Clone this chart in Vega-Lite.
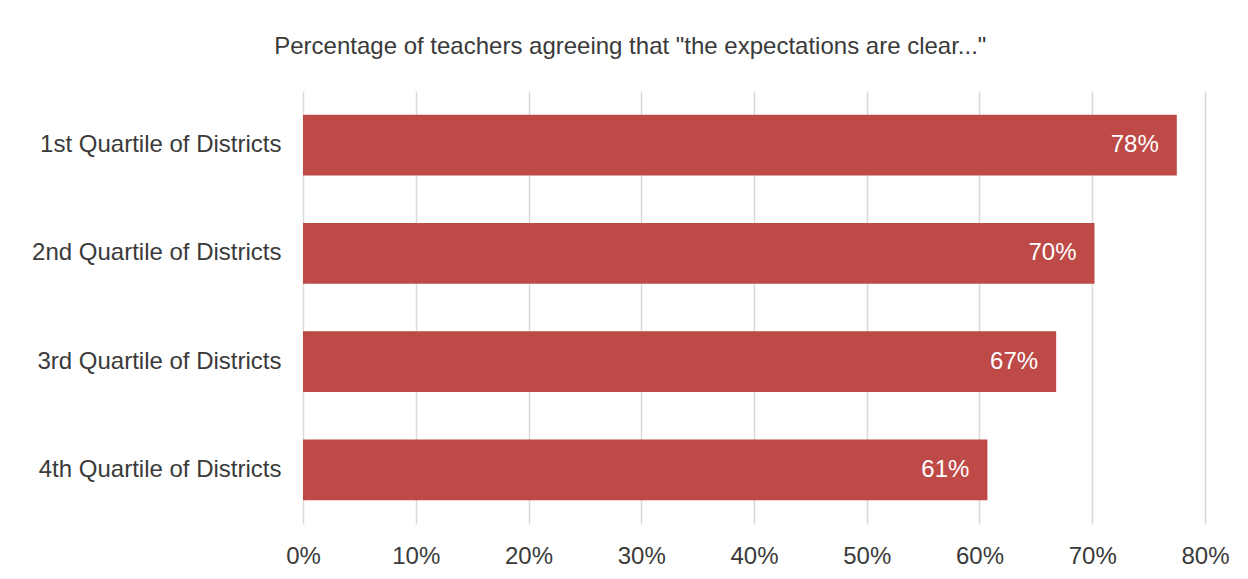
{
  "$schema": "https://vega.github.io/schema/vega-lite/v6.json",
  "width": 902,
  "height": 433,
  "autosize": {"type": "none"},
  "padding": {"left": 303, "top": 91, "right": 43, "bottom": 55},
  "background": "white",
  "title": {
    "text": "Percentage of teachers agreeing that \"the expectations are clear...\"",
    "anchor": "middle",
    "frame": "bounds",
    "fontSize": 24,
    "fontWeight": "normal",
    "font": "Liberation Sans",
    "color": "#3a3a3a",
    "offset": 32
  },
  "data": {
    "values": [
      {"group": "1st Quartile of Districts", "value": 0.775, "label": "78%"},
      {"group": "2nd Quartile of Districts", "value": 0.702, "label": "70%"},
      {"group": "3rd Quartile of Districts", "value": 0.668, "label": "67%"},
      {"group": "4th Quartile of Districts", "value": 0.607, "label": "61%"}
    ]
  },
  "encoding": {
    "y": {
      "field": "group",
      "type": "nominal",
      "sort": null,
      "title": null,
      "scale": {"paddingInner": 0.44, "paddingOuter": 0.22},
      "axis": {
        "domain": false,
        "ticks": false,
        "grid": false,
        "labelFontSize": 24,
        "labelFont": "Liberation Sans",
        "labelColor": "#3a3a3a",
        "labelPadding": 22,
        "labelLimit": 400
      }
    },
    "x": {
      "field": "value",
      "type": "quantitative",
      "title": null,
      "scale": {"domain": [0, 0.8], "nice": false},
      "axis": {
        "format": ".0%",
        "values": [0, 0.1, 0.2, 0.3, 0.4, 0.5, 0.6, 0.7, 0.8],
        "domain": false,
        "ticks": false,
        "grid": true,
        "gridColor": "#d9d9d9",
        "gridWidth": 1.5,
        "labelFlush": false,
        "labelFontSize": 24,
        "labelFont": "Liberation Sans",
        "labelColor": "#3a3a3a",
        "labelPadding": 20
      }
    }
  },
  "layer": [
    {"mark": {"type": "bar", "color": "#be4a48"}},
    {
      "mark": {"type": "text", "align": "right", "dx": -18, "color": "white", "fontSize": 24, "font": "Liberation Sans"},
      "encoding": {"text": {"field": "label"}}
    }
  ],
  "config": {"view": {"stroke": null}}
}
